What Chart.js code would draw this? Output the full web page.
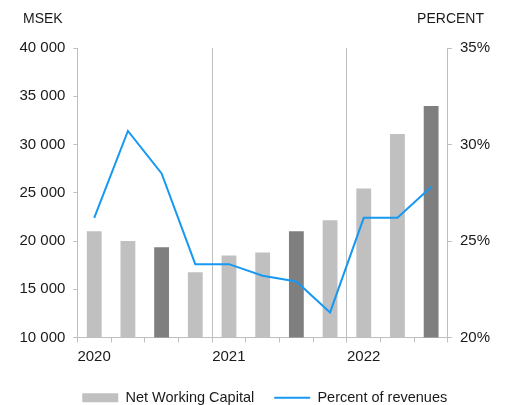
<!DOCTYPE html>
<html>
<head>
<meta charset="utf-8">
<script src="https://cdn.jsdelivr.net/npm/chart.js@4"></script>
<style>
    html, body { margin: 0; padding: 0; background: #fff; }
    #wrap { width: 507px; height: 405px; }
</style>
</head>
<body>
<div id="wrap"><canvas id="myChart"></canvas></div>
<script>
"use strict"

// quarters shown on the x axis, year printed at each Q1
const periods = ['Q1 2020', 'Q2 2020', 'Q3 2020', 'Q4 2020',
    'Q1 2021', 'Q2 2021', 'Q3 2021', 'Q4 2021',
    'Q1 2022', 'Q2 2022', 'Q3 2022'];

// net working capital, MSEK
const netWorkingCapital = [21000, 20000, 19350, 16750, 18500, 18800, 21000, 22150, 25450, 31100, 34000];

// percent of revenues
const percentOfRevenues = [26.2, 30.7, 28.5, 23.8, 23.8, 23.2, 22.9, 21.3, 26.2, 26.2, 27.8];

const LIGHT = '#c0c0c0';
const DARK = '#7f7f7f';
const BLUE = '#1798f2';
const AXIS = '#bfbfbf';
const TEXT = '#1a1a1a';
const FONT = "'Liberation Sans', Arial, sans-serif";

Chart.defaults.font.family = FONT;
Chart.defaults.font.size = 15;
Chart.defaults.color = TEXT;

// unit labels above both y axes
const unitLabels = {
    id: 'unitLabels',
    afterDraw(chart) {
        const ctx = chart.ctx;
        ctx.save();
        ctx.font = '14px ' + FONT;
        ctx.fillStyle = TEXT;
        ctx.textBaseline = 'alphabetic';
        ctx.textAlign = 'left';
        ctx.fillText('MSEK', 23, 23);
        ctx.textAlign = 'right';
        ctx.fillText('PERCENT', 484, 23);
        ctx.restore();
    }
};

// legend sits a little right of centre in the original
const legendNudge = {
    id: 'legendNudge',
    afterLayout(chart) {
        if (chart.legend) {
            chart.legend.left += 10;
            chart.legend.right += 10;
        }
    }
};

let data = {
    labels: periods,
    datasets: [{
        type: 'line',
        label: 'Percent of revenues',
        data: percentOfRevenues,
        yAxisID: 'y1',
        borderColor: BLUE,
        backgroundColor: BLUE,
        borderWidth: 2,
        tension: 0,
        pointRadius: 0,
        pointStyle: 'line',
        order: 0
    }, {
        type: 'bar',
        label: 'Net Working Capital',
        data: netWorkingCapital,
        yAxisID: 'y',
        backgroundColor: (c) => (c.dataIndex % 4 === 2 ? DARK : LIGHT),
        borderWidth: 0,
        barPercentage: 0.44,
        categoryPercentage: 1,
        pointStyle: 'rect',
        order: 1
    }]
};

let config = {
    data: data,
    options: {
        responsive: true,
        maintainAspectRatio: false,
        animation: false,
        layout: { padding: { top: 48, left: 11.5, right: 9, bottom: -10 } },
        plugins: {
            legend: {
                position: 'bottom',
                reverse: true,
                labels: {
                    usePointStyle: true,
                    pointStyleWidth: 36,
                    boxHeight: 9,
                    padding: 20,
                    color: TEXT,
                    font: { size: 14.5 }
                }
            },
            tooltip: { enabled: false }
        },
        scales: {
            x: {
                offset: true,
                grid: {
                    offset: true,
                    drawOnChartArea: true,
                    color: (c) => (c.index === 4 || c.index === 8 ? AXIS : 'rgba(0,0,0,0)'),
                    tickColor: AXIS,
                    tickLength: 5
                },
                border: { color: AXIS },
                ticks: {
                    autoSkip: false,
                    maxRotation: 0,
                    align: 'start',
                    labelOffset: -16.8,
                    padding: 5,
                    callback: function (v, i) {
                        const p = periods[i];
                        return p.startsWith('Q1') ? p.slice(3) : '';
                    }
                }
            },
            y: {
                position: 'left',
                min: 10000,
                max: 40000,
                grid: { drawOnChartArea: false, tickColor: AXIS, tickLength: 4 },
                border: { color: AXIS },
                ticks: {
                    stepSize: 5000,
                    padding: 8,
                    callback: (v) => String(v).replace(/\B(?=(\d{3})+(?!\d))/g, ' ')
                }
            },
            y1: {
                position: 'right',
                min: 20,
                max: 35,
                grid: { drawOnChartArea: false, tickColor: AXIS, tickLength: 4 },
                border: { color: AXIS },
                ticks: {
                    stepSize: 5,
                    padding: 8,
                    callback: (v) => v + '%'
                }
            }
        }
    },
    plugins: [unitLabels, legendNudge]
};

let myChart = new Chart(document.getElementById('myChart'), config);
</script>
</body>
</html>
